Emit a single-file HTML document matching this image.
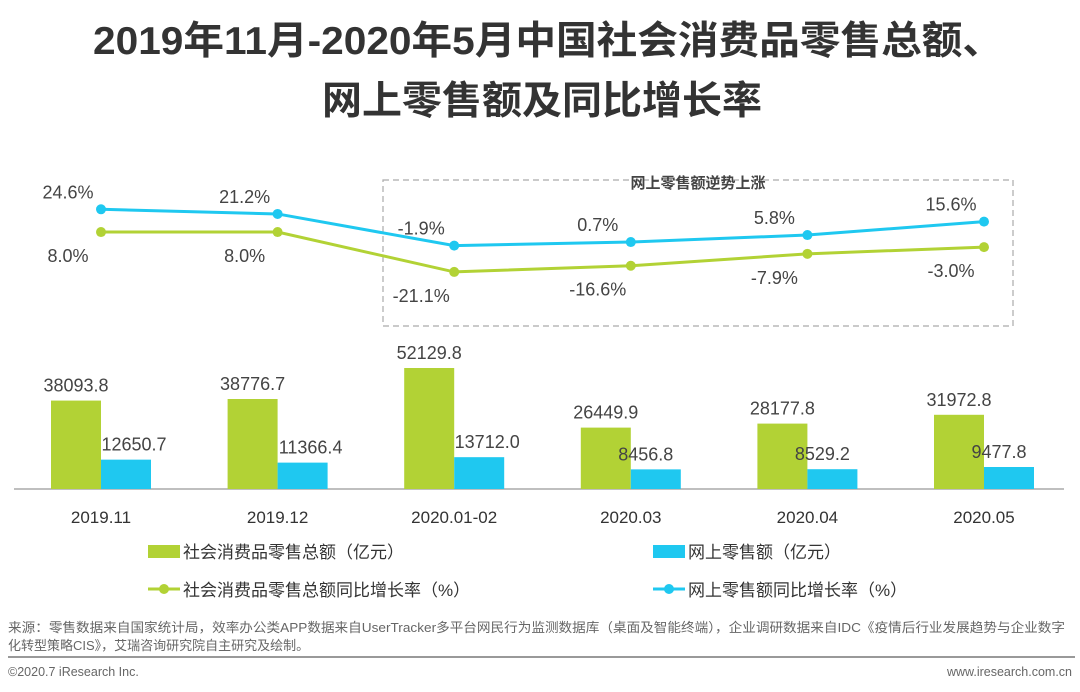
<!DOCTYPE html>
<html><head><meta charset="utf-8">
<style>
body{margin:0;background:#fff;}
svg{display:block;font-family:"Liberation Sans","Noto Sans CJK SC",sans-serif;}
</style></head>
<body>
<svg id="chart" width="1080" height="692" viewBox="0 0 1080 692">
<text x="93" y="54" font-size="39" font-weight="bold" fill="#333" textLength="910" lengthAdjust="spacingAndGlyphs">2019年11月-2020年5月中国社会消费品零售总额、</text>
<text x="322" y="114" font-size="39" font-weight="bold" fill="#333" textLength="440" lengthAdjust="spacingAndGlyphs">网上零售额及同比增长率</text>
<rect x="383" y="180" width="630" height="146" fill="none" stroke="#aaa" stroke-dasharray="6,4" stroke-width="1.2"/>
<text x="698" y="188" text-anchor="middle" font-size="15" font-weight="bold" fill="#444">网上零售额逆势上涨</text>
<line x1="14" y1="489" x2="1064" y2="489" stroke="#aaa" stroke-width="1.5"/>
<g id="marks"></g>
<rect x="148" y="545" width="32" height="13" fill="#b2d235"/>
<text x="183" y="558" font-size="17" fill="#333">社会消费品零售总额（亿元）</text>
<rect x="653" y="545" width="32" height="13" fill="#1fc8f0"/>
<text x="688" y="558" font-size="17" fill="#333">网上零售额（亿元）</text>
<line x1="148" y1="589" x2="180" y2="589" stroke="#b2d235" stroke-width="3"/>
<circle cx="164" cy="589" r="5" fill="#b2d235"/>
<text x="183" y="596" font-size="17" fill="#333">社会消费品零售总额同比增长率（%）</text>
<line x1="653" y1="589" x2="685" y2="589" stroke="#1fc8f0" stroke-width="3"/>
<circle cx="669" cy="589" r="5" fill="#1fc8f0"/>
<text x="688" y="596" font-size="17" fill="#333">网上零售额同比增长率（%）</text>
<text x="8" y="632" font-size="13" fill="#666" textLength="1057" lengthAdjust="spacingAndGlyphs">来源：零售数据来自国家统计局，效率办公类APP数据来自UserTracker多平台网民行为监测数据库（桌面及智能终端），企业调研数据来自IDC《疫情后行业发展趋势与企业数字</text>
<text x="8" y="650" font-size="13" fill="#666">化转型策略CIS》，艾瑞咨询研究院自主研究及绘制。</text>
<line x1="8" y1="657" x2="1075" y2="657" stroke="#999" stroke-width="2"/>
<text x="8" y="676" font-size="12.5" fill="#666">©2020.7 iResearch Inc.</text>
<text x="1072" y="676" text-anchor="end" font-size="12.5" fill="#666">www.iresearch.com.cn</text>
</svg>
<script>
const categories = ["2019.11","2019.12","2020.01-02","2020.03","2020.04","2020.05"];
const totalSales = [38093.8,38776.7,52129.8,26449.9,28177.8,31972.8];
const onlineSales = [12650.7,11366.4,13712.0,8456.8,8529.2,9477.8];
const totalGrowth = [8.0,8.0,-21.1,-16.6,-7.9,-3.0];
const onlineGrowth = [24.6,21.2,-1.9,0.7,5.8,15.6];

const NS="http://www.w3.org/2000/svg";
const g=document.getElementById('marks');
function xC(i){return 101+i*176.6;}
function yBar(v){return 489-v*0.002321;}
function yRate(v){return 243-v*1.37;}
function mk(tag,attrs,txt){const e=document.createElementNS(NS,tag);for(const k in attrs)e.setAttribute(k,attrs[k]);if(txt!==undefined)e.textContent=txt;g.appendChild(e);return e;}
const green="#b2d235",blue="#1fc8f0",tc="#444";
categories.forEach((c,i)=>{
  const x=xC(i);
  const gt=yBar(totalSales[i]);
  let e=mk('rect',{x:x-50,y:gt,width:50,height:489-gt,fill:green});
  
  
  const bt=yBar(onlineSales[i]);
  e=mk('rect',{x:x,y:bt,width:50,height:489-bt,fill:blue});
  
  
  e=mk('text',{x:x-25,y:gt-9,'text-anchor':'middle','font-size':18,fill:tc},totalSales[i].toFixed(1));
  
  
  e=mk('text',{x:x+25+(i<3?8:-10),y:bt-9,'text-anchor':'middle','font-size':18,fill:tc},onlineSales[i].toFixed(1));
  
  
  e=mk('text',{x:x,y:523,'text-anchor':'middle','font-size':17,fill:'#333'},c);
  
  
});
function line(vals,color,name,above){
  const pts=vals.map((v,i)=>xC(i)+','+yRate(v)).join(' ');
  let e=mk('polyline',{points:pts,fill:'none',stroke:color,'stroke-width':3});
  
  
  vals.forEach((v,i)=>{
    const x=xC(i),y=yRate(v);
    let c=mk('circle',{cx:x,cy:y,r:5,fill:color});
    
    
    let t=mk('text',{x:x-33,y:above?y-11:y+30,'text-anchor':'middle','font-size':18,fill:tc},v.toFixed(1)+'%');
    
    
  });
}
line(totalGrowth,green,'total-growth',false);
line(onlineGrowth,blue,'online-growth',true);
</script>
</body></html>
